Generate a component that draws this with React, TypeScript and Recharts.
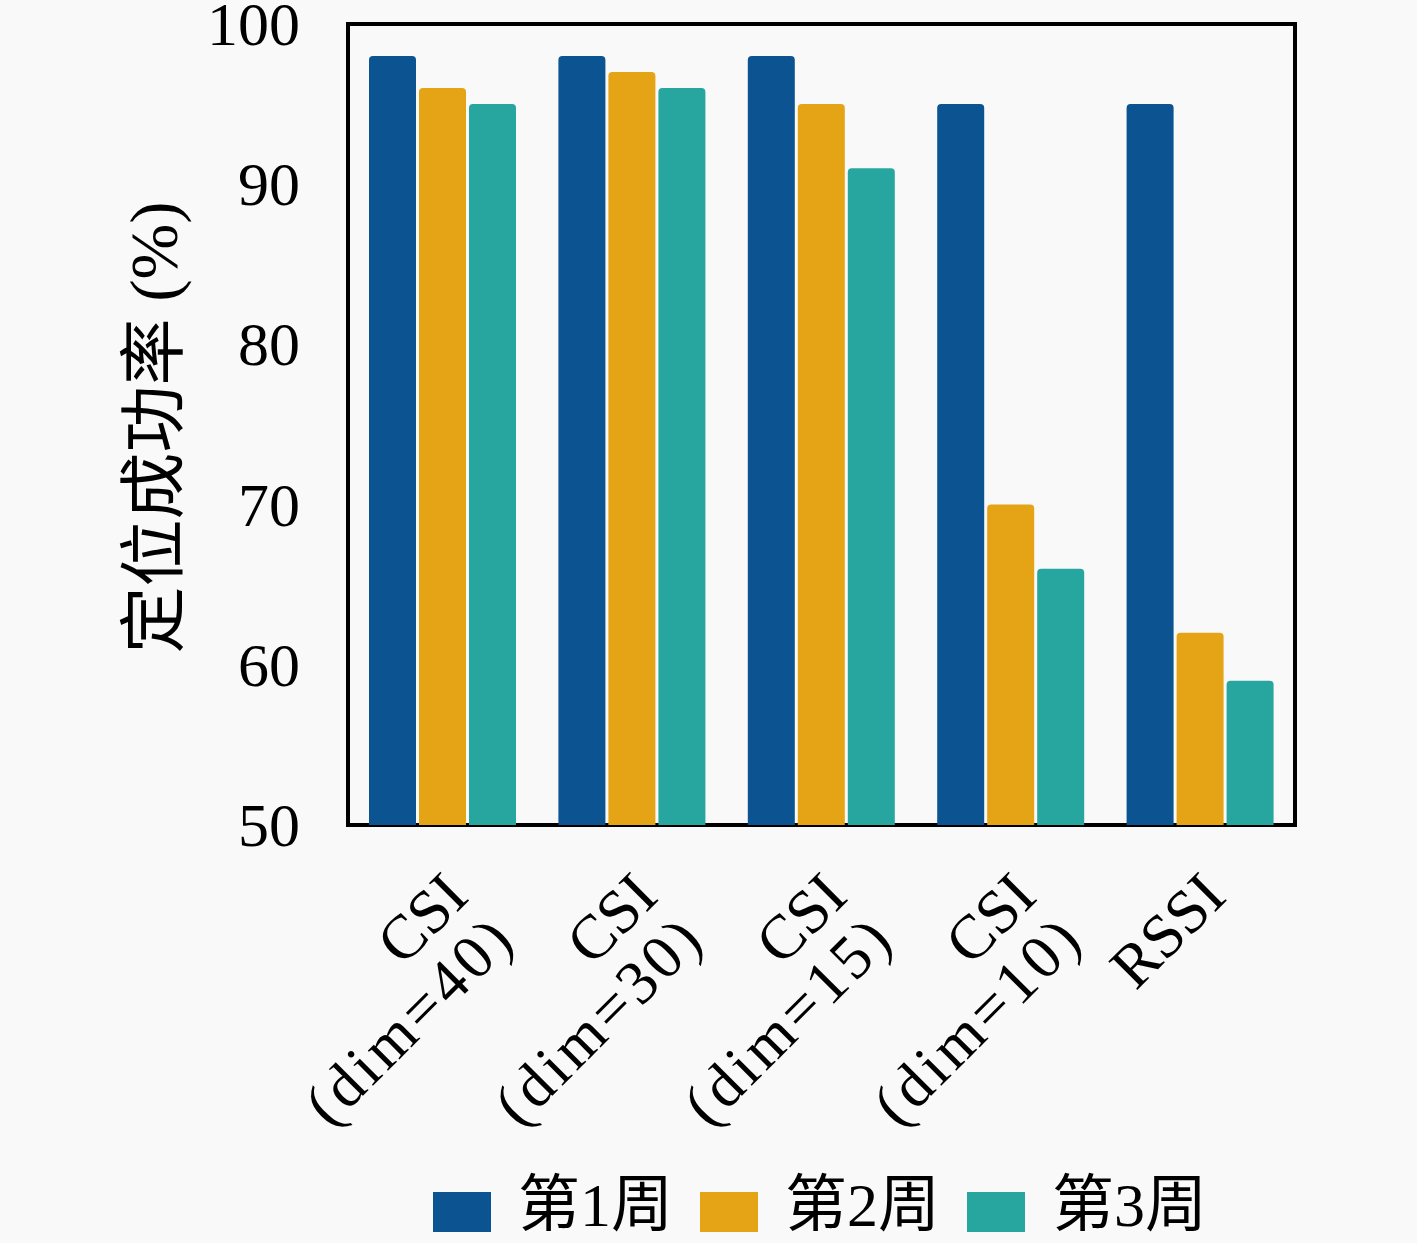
import React from 'react';
import { BarChart, Bar, XAxis, YAxis, ReferenceArea } from 'recharts';

// categories (two-line tick labels) and weekly success rates
const labelTop = ['CSI', 'CSI', 'CSI', 'CSI', 'RSSI'];
const labelBottom = ['(dim=40)', '(dim=30)', '(dim=15)', '(dim=10)', ''];
const week1 = [98, 98, 98, 95, 95];
const week2 = [96, 97, 95, 70, 62];
const week3 = [95, 96, 91, 66, 59];
const yTicks = [50, 60, 70, 80, 90, 100];

const seriesNames = ['第1周', '第2周', '第3周'];
const seriesKeys = ['w1', 'w2', 'w3'];
const COLORS = ['#0b5391', '#e4a415', '#27a69f'];

const data = labelTop.map((name, i) => ({
    name,
    w1: week1[i],
    w2: week2[i],
    w3: week3[i]
}));

const FONT = "'Liberation Serif', 'Noto Sans CJK SC', serif";
const BG = '#f9f9f9';

function CategoryTick(props: any) {
    const { x, y, payload, index } = props;
    const sub = labelBottom[index] ?? '';
    return (
        <g transform={`translate(${x + 28},${y + 74}) rotate(-45)`}>
            <text x={0} y={0} textAnchor="end" fontSize={62} fill="#000" fontFamily={FONT}>
                {payload.value}
            </text>
            {sub && (
                <text
                    x={0}
                    y={63}
                    textAnchor="end"
                    fontSize={62}
                    fill="#000"
                    fontFamily={FONT}
                    textLength={262}
                    lengthAdjust="spacing"
                >
                    {sub}
                </text>
            )}
        </g>
    );
}

function ValueTick(props: any) {
    const { x, y, payload } = props;
    return (
        <text x={x} y={y} dy="0.34em" textAnchor="end" fontSize={62} fill="#000" fontFamily={FONT}>
            {payload.value}
        </text>
    );
}

function YLabel(props: any) {
    const { viewBox } = props;
    const cx = viewBox.x + 154;
    const cy = viewBox.y + viewBox.height / 2 + 3;
    return (
        <text
            x={cx}
            y={cy}
            transform={`rotate(-90, ${cx}, ${cy})`}
            textAnchor="middle"
            dominantBaseline="central"
            fontSize={67}
            fill="#000"
            fontFamily={FONT}
        >
            定位成功率 (%)
        </text>
    );
}

export default function App() {
    return (
        <div style={{ position: 'absolute', left: 0, top: 0, width: 1417, height: 1243, background: BG }}>
            <BarChart
                width={1417}
                height={1243}
                data={data}
                margin={{ top: 24, right: 122, bottom: 0, left: 0 }}
                barCategoryGap={21}
                barGap={3}
                style={{ fontFamily: FONT }}
            >
                <XAxis
                    dataKey="name"
                    height={418}
                    axisLine={false}
                    tickLine={false}
                    tickSize={0}
                    tickMargin={0}
                    interval={0}
                    tick={<CategoryTick />}
                />
                <YAxis
                    width={348}
                    domain={[50, 100]}
                    ticks={yTicks}
                    interval={0}
                    allowDataOverflow
                    axisLine={false}
                    tickLine={false}
                    tickSize={0}
                    tickMargin={48}
                    tick={<ValueTick />}
                    label={<YLabel />}
                />
                {seriesKeys.map((k, i) => (
                    <Bar
                        key={k}
                        dataKey={k}
                        name={seriesNames[i]}
                        fill={COLORS[i]}
                        radius={[4, 4, 0, 0]}
                        isAnimationActive={false}
                    />
                ))}
                <ReferenceArea y1={50} y2={100} fill="none" stroke="#000" strokeWidth={4} ifOverflow="visible" />
            </BarChart>
            <div
                style={{
                    position: 'absolute',
                    left: 433,
                    top: 1174,
                    height: 62,
                    display: 'flex',
                    alignItems: 'center',
                    fontFamily: FONT,
                    fontSize: 62,
                    lineHeight: '62px',
                    color: '#000',
                    whiteSpace: 'nowrap'
                }}
            >
                {seriesNames.map((n, i) => (
                    <div key={n} style={{ display: 'flex', alignItems: 'center', marginRight: 27 }}>
                        <span
                            style={{
                                display: 'inline-block',
                                width: 58,
                                height: 40,
                                background: COLORS[i],
                                marginRight: 27,
                                position: 'relative',
                                top: 7
                            }}
                        />
                        <span>{n}</span>
                    </div>
                ))}
            </div>
        </div>
    );
}
